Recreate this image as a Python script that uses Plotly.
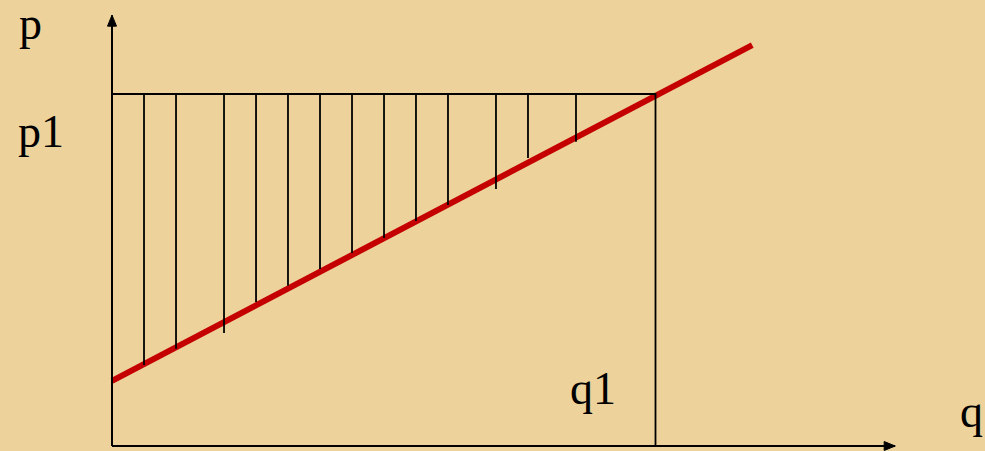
import plotly.graph_objects as go

# ---- data (economic units) ----
q1 = 10.0                      # equilibrium quantity
p1 = 10.0                      # equilibrium price
supply_q = [0.0, 11.78]        # supply curve end points (q)
supply_p = [1.85, 11.39]       # supply curve end points (p)
hatch_q = [0.589, 1.178, 2.061, 2.650, 3.238, 3.827, 4.416,
           5.005, 5.593, 6.182, 7.065, 7.654, 8.537]
hatch_p_low = [2.30, 2.76, 3.21, 4.09, 4.55, 5.03, 5.48,
               5.91, 6.39, 6.85, 7.30, 8.18, 8.64]
axis_q_max = 14.41
axis_p_max = 12.24
label_p, label_p1, label_q, label_q1 = "p", "p1", "q", "q1"

# ---- layout geometry ----
W, H = 985, 451
ox, oy = 112, 446             # pixel position of origin
kx, ky = 54.35, 35.2          # pixels per unit
xr = [-ox / kx, (W - ox) / kx]
yr = [-(H - oy) / ky, oy / ky]

BG = "#EDD29B"
INK = "black"
RED = "#C40000"
FONT = dict(family="Liberation Serif, Times New Roman, serif", size=46, color=INK)

fig = go.Figure()

# supply curve
fig.add_trace(go.Scatter(x=supply_q, y=supply_p, mode="lines",
                         line=dict(color=RED, width=6), hoverinfo="skip"))

# hatch lines (producer surplus)
hx, hy = [], []
for q, pl in zip(hatch_q, hatch_p_low):
    hx += [q, q, None]
    hy += [p1, pl, None]
fig.add_trace(go.Scatter(x=hx, y=hy, mode="lines",
                         line=dict(color=INK, width=1.8), hoverinfo="skip"))

# p1 horizontal & q1 vertical
fig.add_trace(go.Scatter(x=[0, q1, q1], y=[p1, p1, 0], mode="lines",
                         line=dict(color=INK, width=1.8), hoverinfo="skip"))

# axes
fig.add_trace(go.Scatter(x=[0, 0, None, 0, axis_q_max],
                         y=[axis_p_max, 0, None, 0, 0], mode="lines",
                         line=dict(color=INK, width=2), hoverinfo="skip"))

# arrow heads (computed from axis ends; 11 px long, 4.5 px half width)
hl, hw = 11, 4.5
fig.add_trace(go.Scatter(
    x=[0 - hw / kx, 0, 0 + hw / kx, 0 - hw / kx],
    y=[axis_p_max - hl / ky, axis_p_max, axis_p_max - hl / ky, axis_p_max - hl / ky],
    mode="lines", fill="toself", fillcolor=INK, line=dict(color=INK, width=1),
    hoverinfo="skip"))
fig.add_trace(go.Scatter(
    x=[axis_q_max - hl / kx, axis_q_max, axis_q_max - hl / kx, axis_q_max - hl / kx],
    y=[0 - hw / ky, 0, 0 + hw / ky, 0 - hw / ky],
    mode="lines", fill="toself", fillcolor=INK, line=dict(color=INK, width=1),
    hoverinfo="skip"))

ann = dict(showarrow=False, font=FONT, xref="x", yref="y", borderpad=0)
fig.add_annotation(x=0, y=axis_p_max, text=label_p, xanchor="right", yanchor="middle",
                   xshift=-69, yshift=-8, **ann)
fig.add_annotation(x=0, y=p1, text=label_p1, xanchor="right", yanchor="middle",
                   xshift=-47, yshift=-37, **ann)
fig.add_annotation(x=q1, y=0, text=label_q1, xanchor="right", yanchor="middle",
                   xshift=-39, yshift=58, **ann)
fig.add_annotation(x=axis_q_max, y=0, text=label_q, xanchor="left", yanchor="middle",
                   xshift=64, yshift=35, **ann)

fig.update_layout(
    width=W, height=H, margin=dict(l=0, r=0, t=0, b=0),
    paper_bgcolor=BG, plot_bgcolor=BG, showlegend=False,
    xaxis=dict(range=xr, visible=False, fixedrange=True),
    yaxis=dict(range=yr, visible=False, fixedrange=True),
)

fig.write_html("out.html", config={"displayModeBar": False},
               post_script="document.body.style.margin='0';document.body.style.overflow='hidden';")
